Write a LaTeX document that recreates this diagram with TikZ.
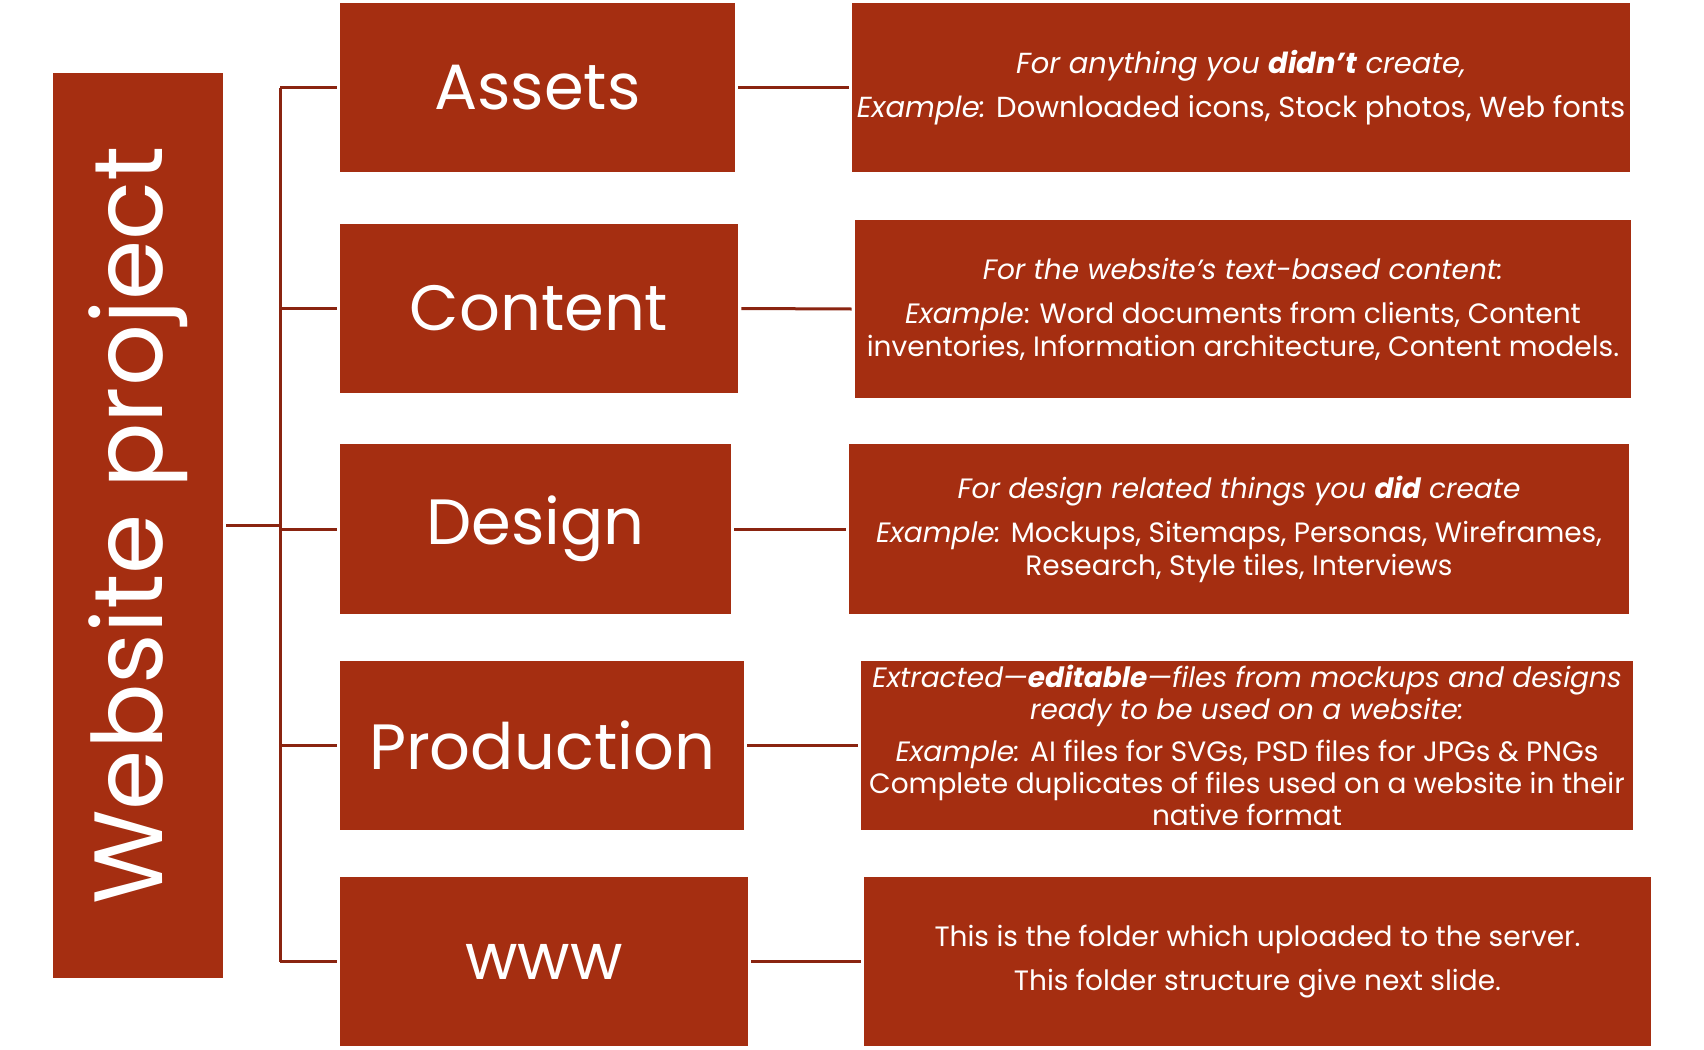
\documentclass[tikz,border=0pt]{standalone}
\usepackage{fontspec}
\usepackage{graphicx}
\setmainfont{Poppins}
\usetikzlibrary{positioning}
\definecolor{rustred}{RGB}{165,46,17}
\definecolor{linkred}{RGB}{138,36,16}

\begin{document}
\begin{tikzpicture}[x=0.5pt, y=-0.5pt,
    every node/.style={text=white, inner sep=0pt},
    block/.style={fill=rustred, minimum height=84.5pt},
    head/.style={block, font=\fontsize{32}{38}\selectfont},
    desc/.style={block, align=center, font=\fontsize{14.3}{16.5}\selectfont},
    link/.style={draw=linkred, line width=1.5pt}]
    \useasboundingbox (0,0) rectangle (1704,1050);

    % left column
    \node[block, minimum width=85pt, minimum height=452.5pt] (root) at (138,525.5)
        {\rotatebox{90}{\fontsize{48.5}{54}\selectfont Website project}};

    % folders
    \node[head, minimum width=197.5pt] (assets) at (537.5,87.5) {Assets};
    \node[head, minimum width=199pt] (content) at (539,308.5) {Content};
    \node[head, minimum width=195.5pt, minimum height=85pt] (design) at (535.5,529) {Design};
    \node[head, minimum width=202pt] (production) at (542,745.5) {Production};
    \node[head, minimum width=204pt] (www) at (544,961.5) {www};

    % descriptions
    \node[desc, minimum width=389pt, font=\fontsize{14.5}{16.5}\selectfont] (assetsd) at (1241,87.5)
        {\itshape For anything you \textbf{didn’t} create,\\[5.5pt]
         \textit{Example:} Downloaded icons, Stock photos, Web fonts};
    \node[desc, minimum width=388pt, minimum height=89pt, font=\fontsize{14}{16.5}\selectfont] (contentd) at (1243,309)
        {\textit{For the website’s text-based content:}\\[5.5pt]
         \textit{Example}: Word documents from clients, Content\\
         inventories, Information architecture, Content models.};
    \node[desc, minimum width=390pt, minimum height=85pt, font=\fontsize{14}{16.5}\selectfont] (designd) at (1239,529)
        {\textit{For design related things you \textbf{did} create}\\[5.5pt]
         \textit{Example:} Mockups, Sitemaps, Personas, Wireframes,\\
         Research, Style tiles, Interviews};
    \node[desc, minimum width=386pt, font=\fontsize{14}{16}\selectfont] (productiond) at (1247,745.5)
        {\textit{Extracted—\textbf{editable}—files from mockups and designs}\\
         \textit{ready to be used on a website:}\\[5pt]
         \textit{Example:} AI files for SVGs, PSD files for JPGs \& PNGs\\
         Complete duplicates of files used on a website in their\\
         native format};
    \node[desc, minimum width=393.5pt, font=\fontsize{14}{16.5}\selectfont] (wwwd) at (1257.5,961.5)
        {This is the folder which uploaded to the server.\\[5.5pt]
         This folder structure give next slide.};

    % tree lines
    \coordinate (jn) at (280,525);
    \coordinate (top) at (280,87.5);
    \coordinate (bot) at (280,961.5);
    \draw[link] ([xshift=1.5pt]root.east |- jn) -- (jn);
    \draw[link] (top) -- (bot);
    \foreach \n in {assets,content,design,production,www} {
        \draw[link] (\n.west -| jn) -- ([xshift=-1.5pt]\n.west);
        \draw[link] ([xshift=1.5pt]\n.east) -- ([xshift=-1.5pt]\n d.west);
    }
\end{tikzpicture}
\end{document}
